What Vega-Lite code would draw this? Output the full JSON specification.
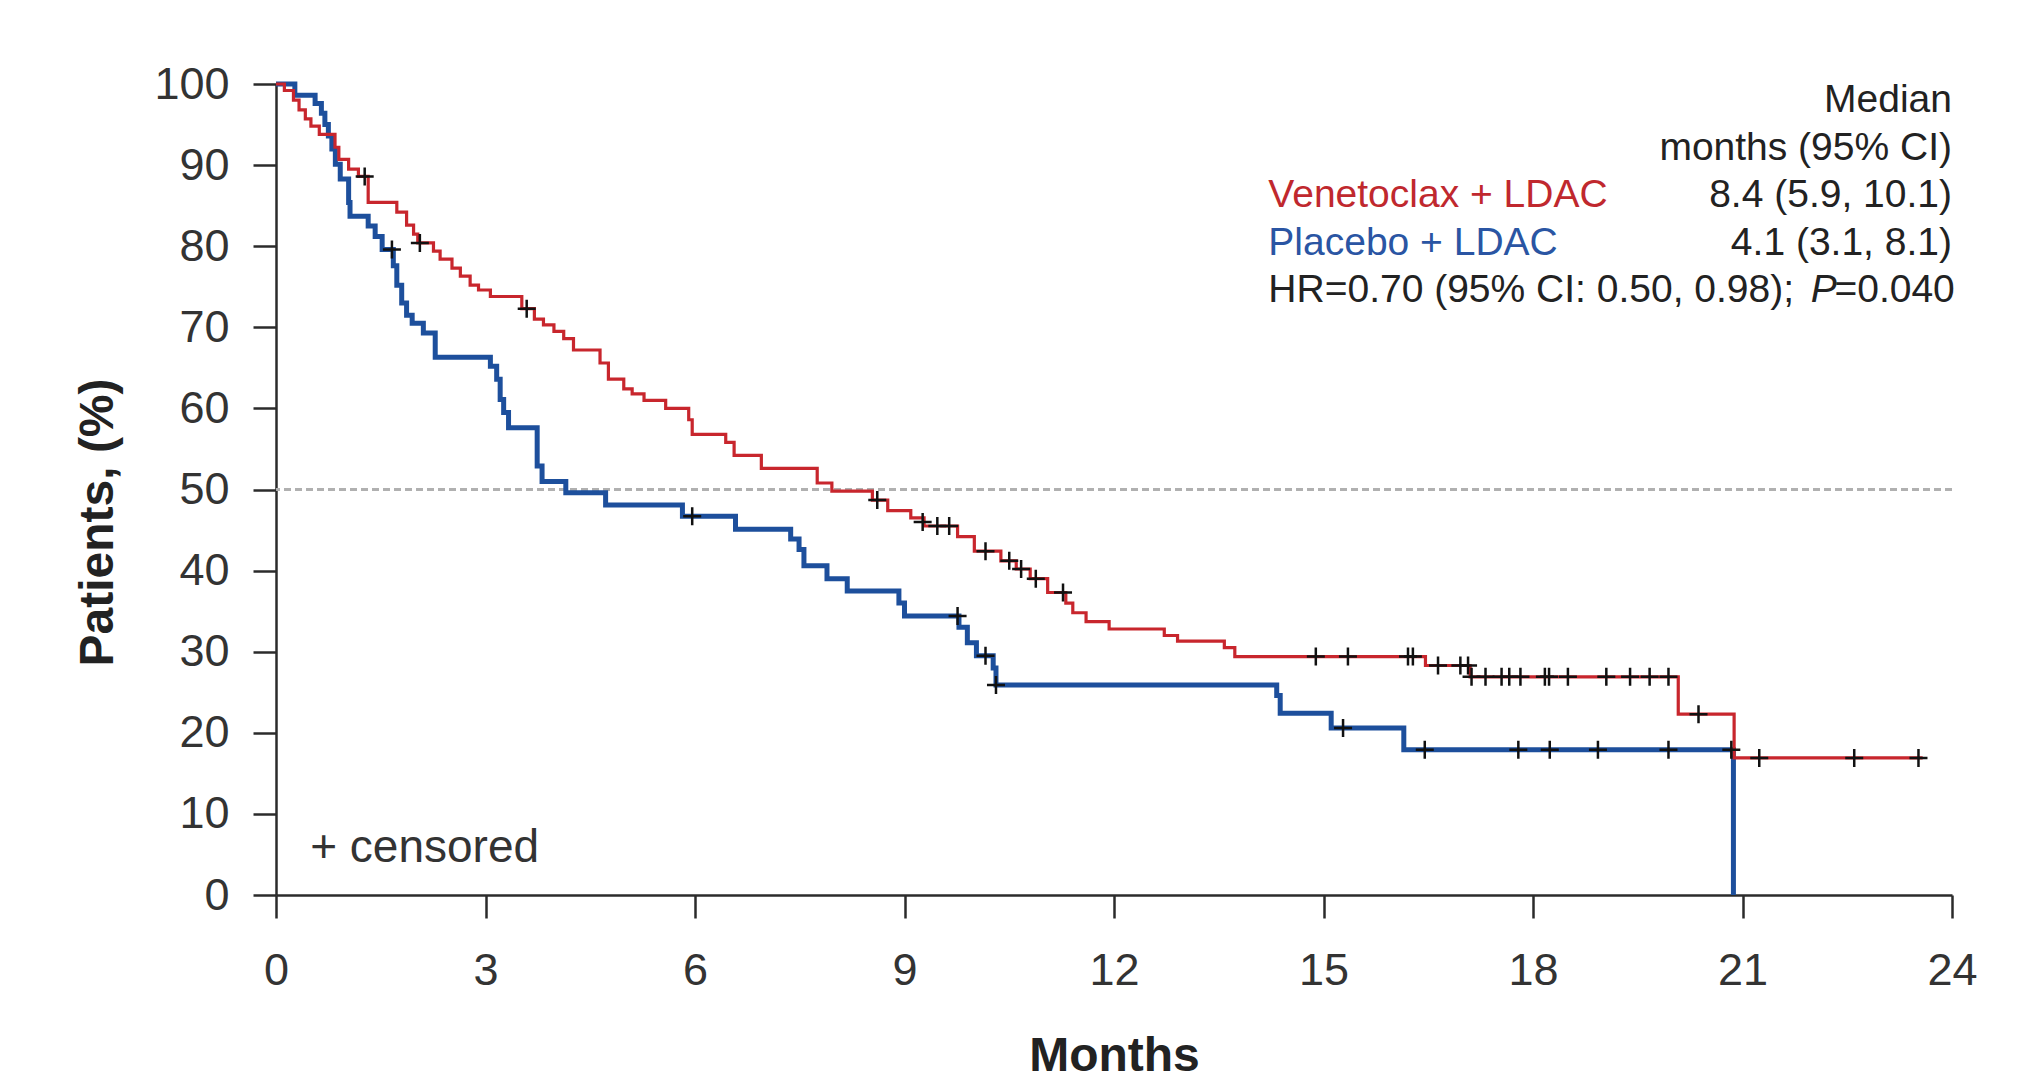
{
  "$schema": "https://vega.github.io/schema/vega-lite/v6.json",
  "width": 1676,
  "height": 811,
  "autosize": {"type": "none"},
  "padding": {"left": 276, "top": 84, "right": 79, "bottom": 196},
  "background": "white",
  "config": {"view": {"stroke": null}, "font": "Liberation Sans"},
  "datasets": {
    "curves": [
      {"arm": "Venetoclax + LDAC", "month": 0, "pct": 100},
      {"arm": "Venetoclax + LDAC", "month": 0.12, "pct": 99.2},
      {"arm": "Venetoclax + LDAC", "month": 0.25, "pct": 98.0},
      {"arm": "Venetoclax + LDAC", "month": 0.33, "pct": 96.8},
      {"arm": "Venetoclax + LDAC", "month": 0.42, "pct": 95.7},
      {"arm": "Venetoclax + LDAC", "month": 0.5, "pct": 94.8},
      {"arm": "Venetoclax + LDAC", "month": 0.62, "pct": 93.8},
      {"arm": "Venetoclax + LDAC", "month": 0.845, "pct": 92.2},
      {"arm": "Venetoclax + LDAC", "month": 0.9, "pct": 90.7},
      {"arm": "Venetoclax + LDAC", "month": 1.04, "pct": 89.5},
      {"arm": "Venetoclax + LDAC", "month": 1.18, "pct": 88.6},
      {"arm": "Venetoclax + LDAC", "month": 1.32, "pct": 85.4},
      {"arm": "Venetoclax + LDAC", "month": 1.73, "pct": 84.2},
      {"arm": "Venetoclax + LDAC", "month": 1.87, "pct": 82.6},
      {"arm": "Venetoclax + LDAC", "month": 1.97, "pct": 81.5},
      {"arm": "Venetoclax + LDAC", "month": 2.03, "pct": 80.4},
      {"arm": "Venetoclax + LDAC", "month": 2.255, "pct": 79.4},
      {"arm": "Venetoclax + LDAC", "month": 2.35, "pct": 78.4},
      {"arm": "Venetoclax + LDAC", "month": 2.52, "pct": 77.3},
      {"arm": "Venetoclax + LDAC", "month": 2.64, "pct": 76.3},
      {"arm": "Venetoclax + LDAC", "month": 2.78, "pct": 75.2},
      {"arm": "Venetoclax + LDAC", "month": 2.9, "pct": 74.6},
      {"arm": "Venetoclax + LDAC", "month": 3.07, "pct": 73.8},
      {"arm": "Venetoclax + LDAC", "month": 3.52, "pct": 72.3},
      {"arm": "Venetoclax + LDAC", "month": 3.7, "pct": 71.0},
      {"arm": "Venetoclax + LDAC", "month": 3.83, "pct": 70.3},
      {"arm": "Venetoclax + LDAC", "month": 3.98, "pct": 69.5},
      {"arm": "Venetoclax + LDAC", "month": 4.12, "pct": 68.6},
      {"arm": "Venetoclax + LDAC", "month": 4.26, "pct": 67.2},
      {"arm": "Venetoclax + LDAC", "month": 4.64, "pct": 65.6},
      {"arm": "Venetoclax + LDAC", "month": 4.76, "pct": 63.6},
      {"arm": "Venetoclax + LDAC", "month": 4.98, "pct": 62.4},
      {"arm": "Venetoclax + LDAC", "month": 5.1, "pct": 61.8},
      {"arm": "Venetoclax + LDAC", "month": 5.27, "pct": 61.0},
      {"arm": "Venetoclax + LDAC", "month": 5.58, "pct": 60.0},
      {"arm": "Venetoclax + LDAC", "month": 5.91, "pct": 58.6},
      {"arm": "Venetoclax + LDAC", "month": 5.96, "pct": 56.8},
      {"arm": "Venetoclax + LDAC", "month": 6.44, "pct": 55.8},
      {"arm": "Venetoclax + LDAC", "month": 6.56, "pct": 54.2},
      {"arm": "Venetoclax + LDAC", "month": 6.95, "pct": 52.6},
      {"arm": "Venetoclax + LDAC", "month": 7.75, "pct": 50.8},
      {"arm": "Venetoclax + LDAC", "month": 7.96, "pct": 49.8},
      {"arm": "Venetoclax + LDAC", "month": 8.54, "pct": 48.7},
      {"arm": "Venetoclax + LDAC", "month": 8.76, "pct": 47.4},
      {"arm": "Venetoclax + LDAC", "month": 9.09, "pct": 46.5},
      {"arm": "Venetoclax + LDAC", "month": 9.28, "pct": 45.5},
      {"arm": "Venetoclax + LDAC", "month": 9.76, "pct": 44.2},
      {"arm": "Venetoclax + LDAC", "month": 10.0, "pct": 42.4},
      {"arm": "Venetoclax + LDAC", "month": 10.38, "pct": 41.2},
      {"arm": "Venetoclax + LDAC", "month": 10.6, "pct": 40.2},
      {"arm": "Venetoclax + LDAC", "month": 10.8, "pct": 39.0},
      {"arm": "Venetoclax + LDAC", "month": 11.05, "pct": 37.3},
      {"arm": "Venetoclax + LDAC", "month": 11.31, "pct": 36.0},
      {"arm": "Venetoclax + LDAC", "month": 11.41, "pct": 34.8},
      {"arm": "Venetoclax + LDAC", "month": 11.6, "pct": 33.7},
      {"arm": "Venetoclax + LDAC", "month": 11.93, "pct": 32.8},
      {"arm": "Venetoclax + LDAC", "month": 12.72, "pct": 32.0},
      {"arm": "Venetoclax + LDAC", "month": 12.91, "pct": 31.3},
      {"arm": "Venetoclax + LDAC", "month": 13.58, "pct": 30.5},
      {"arm": "Venetoclax + LDAC", "month": 13.73, "pct": 29.4},
      {"arm": "Venetoclax + LDAC", "month": 16.46, "pct": 28.3},
      {"arm": "Venetoclax + LDAC", "month": 17.1, "pct": 26.9},
      {"arm": "Venetoclax + LDAC", "month": 20.08, "pct": 22.3},
      {"arm": "Venetoclax + LDAC", "month": 20.88, "pct": 16.9},
      {"arm": "Venetoclax + LDAC", "month": 23.58, "pct": 16.9},
      {"arm": "Placebo + LDAC", "month": 0, "pct": 100},
      {"arm": "Placebo + LDAC", "month": 0.27, "pct": 98.6},
      {"arm": "Placebo + LDAC", "month": 0.56, "pct": 97.6},
      {"arm": "Placebo + LDAC", "month": 0.65, "pct": 96.4},
      {"arm": "Placebo + LDAC", "month": 0.7, "pct": 95.0},
      {"arm": "Placebo + LDAC", "month": 0.75, "pct": 93.6},
      {"arm": "Placebo + LDAC", "month": 0.8, "pct": 92.0},
      {"arm": "Placebo + LDAC", "month": 0.85, "pct": 90.1},
      {"arm": "Placebo + LDAC", "month": 0.92, "pct": 88.3},
      {"arm": "Placebo + LDAC", "month": 1.04, "pct": 85.4},
      {"arm": "Placebo + LDAC", "month": 1.06, "pct": 83.7},
      {"arm": "Placebo + LDAC", "month": 1.32, "pct": 82.5},
      {"arm": "Placebo + LDAC", "month": 1.42, "pct": 81.2},
      {"arm": "Placebo + LDAC", "month": 1.52, "pct": 79.6},
      {"arm": "Placebo + LDAC", "month": 1.68, "pct": 77.6},
      {"arm": "Placebo + LDAC", "month": 1.73, "pct": 75.2},
      {"arm": "Placebo + LDAC", "month": 1.8, "pct": 73.0},
      {"arm": "Placebo + LDAC", "month": 1.87, "pct": 71.5},
      {"arm": "Placebo + LDAC", "month": 1.95, "pct": 70.5},
      {"arm": "Placebo + LDAC", "month": 2.11, "pct": 69.3},
      {"arm": "Placebo + LDAC", "month": 2.28, "pct": 66.3},
      {"arm": "Placebo + LDAC", "month": 3.07, "pct": 65.2},
      {"arm": "Placebo + LDAC", "month": 3.16, "pct": 63.6},
      {"arm": "Placebo + LDAC", "month": 3.21, "pct": 61.1},
      {"arm": "Placebo + LDAC", "month": 3.26, "pct": 59.5},
      {"arm": "Placebo + LDAC", "month": 3.33, "pct": 57.6},
      {"arm": "Placebo + LDAC", "month": 3.74, "pct": 52.9},
      {"arm": "Placebo + LDAC", "month": 3.81, "pct": 51.0},
      {"arm": "Placebo + LDAC", "month": 4.15, "pct": 49.6},
      {"arm": "Placebo + LDAC", "month": 4.72, "pct": 48.1},
      {"arm": "Placebo + LDAC", "month": 5.82, "pct": 46.7},
      {"arm": "Placebo + LDAC", "month": 6.58, "pct": 45.1},
      {"arm": "Placebo + LDAC", "month": 7.37, "pct": 43.9},
      {"arm": "Placebo + LDAC", "month": 7.49, "pct": 42.6},
      {"arm": "Placebo + LDAC", "month": 7.56, "pct": 40.6},
      {"arm": "Placebo + LDAC", "month": 7.89, "pct": 39.0},
      {"arm": "Placebo + LDAC", "month": 8.18, "pct": 37.5},
      {"arm": "Placebo + LDAC", "month": 8.92, "pct": 36.0},
      {"arm": "Placebo + LDAC", "month": 9.0, "pct": 34.4},
      {"arm": "Placebo + LDAC", "month": 9.78, "pct": 33.0},
      {"arm": "Placebo + LDAC", "month": 9.9, "pct": 31.1},
      {"arm": "Placebo + LDAC", "month": 10.03, "pct": 29.5},
      {"arm": "Placebo + LDAC", "month": 10.27, "pct": 28.0},
      {"arm": "Placebo + LDAC", "month": 10.31, "pct": 25.9},
      {"arm": "Placebo + LDAC", "month": 14.33, "pct": 24.6},
      {"arm": "Placebo + LDAC", "month": 14.38, "pct": 22.4},
      {"arm": "Placebo + LDAC", "month": 15.11, "pct": 20.6},
      {"arm": "Placebo + LDAC", "month": 16.15, "pct": 17.9},
      {"arm": "Placebo + LDAC", "month": 20.87, "pct": 0}
    ],
    "censored": [
      {"arm": "Venetoclax + LDAC", "month": 1.27, "pct": 88.6},
      {"arm": "Venetoclax + LDAC", "month": 2.06, "pct": 80.4},
      {"arm": "Venetoclax + LDAC", "month": 3.59, "pct": 72.3},
      {"arm": "Venetoclax + LDAC", "month": 8.61, "pct": 48.7},
      {"arm": "Venetoclax + LDAC", "month": 9.26, "pct": 46.0},
      {"arm": "Venetoclax + LDAC", "month": 9.47, "pct": 45.5},
      {"arm": "Venetoclax + LDAC", "month": 9.64, "pct": 45.5},
      {"arm": "Venetoclax + LDAC", "month": 10.16, "pct": 42.4},
      {"arm": "Venetoclax + LDAC", "month": 10.5, "pct": 41.2},
      {"arm": "Venetoclax + LDAC", "month": 10.67, "pct": 40.2},
      {"arm": "Venetoclax + LDAC", "month": 10.88, "pct": 39.0},
      {"arm": "Venetoclax + LDAC", "month": 11.27, "pct": 37.3},
      {"arm": "Venetoclax + LDAC", "month": 14.89, "pct": 29.4},
      {"arm": "Venetoclax + LDAC", "month": 15.35, "pct": 29.4},
      {"arm": "Venetoclax + LDAC", "month": 16.21, "pct": 29.4},
      {"arm": "Venetoclax + LDAC", "month": 16.28, "pct": 29.4},
      {"arm": "Venetoclax + LDAC", "month": 16.64, "pct": 28.3},
      {"arm": "Venetoclax + LDAC", "month": 16.96, "pct": 28.3},
      {"arm": "Venetoclax + LDAC", "month": 17.07, "pct": 28.3},
      {"arm": "Venetoclax + LDAC", "month": 17.12, "pct": 26.9},
      {"arm": "Venetoclax + LDAC", "month": 17.32, "pct": 26.9},
      {"arm": "Venetoclax + LDAC", "month": 17.55, "pct": 26.9},
      {"arm": "Venetoclax + LDAC", "month": 17.66, "pct": 26.9},
      {"arm": "Venetoclax + LDAC", "month": 17.82, "pct": 26.9},
      {"arm": "Venetoclax + LDAC", "month": 18.17, "pct": 26.9},
      {"arm": "Venetoclax + LDAC", "month": 18.23, "pct": 26.9},
      {"arm": "Venetoclax + LDAC", "month": 18.5, "pct": 26.9},
      {"arm": "Venetoclax + LDAC", "month": 19.05, "pct": 26.9},
      {"arm": "Venetoclax + LDAC", "month": 19.39, "pct": 26.9},
      {"arm": "Venetoclax + LDAC", "month": 19.67, "pct": 26.9},
      {"arm": "Venetoclax + LDAC", "month": 19.94, "pct": 26.9},
      {"arm": "Venetoclax + LDAC", "month": 20.37, "pct": 22.3},
      {"arm": "Venetoclax + LDAC", "month": 21.24, "pct": 16.9},
      {"arm": "Venetoclax + LDAC", "month": 22.6, "pct": 16.9},
      {"arm": "Venetoclax + LDAC", "month": 23.52, "pct": 16.9},
      {"arm": "Placebo + LDAC", "month": 1.66, "pct": 79.6},
      {"arm": "Placebo + LDAC", "month": 5.96, "pct": 46.7},
      {"arm": "Placebo + LDAC", "month": 9.76, "pct": 34.4},
      {"arm": "Placebo + LDAC", "month": 10.16, "pct": 29.5},
      {"arm": "Placebo + LDAC", "month": 10.31, "pct": 25.9},
      {"arm": "Placebo + LDAC", "month": 15.28, "pct": 20.6},
      {"arm": "Placebo + LDAC", "month": 16.45, "pct": 17.9},
      {"arm": "Placebo + LDAC", "month": 17.79, "pct": 17.9},
      {"arm": "Placebo + LDAC", "month": 18.24, "pct": 17.9},
      {"arm": "Placebo + LDAC", "month": 18.93, "pct": 17.9},
      {"arm": "Placebo + LDAC", "month": 19.94, "pct": 17.9},
      {"arm": "Placebo + LDAC", "month": 20.84, "pct": 17.9}
    ],
    "notes": [
      {"label": "Median"},
      {"label": "months (95% CI)"},
      {"label": "Venetoclax + LDAC"},
      {"label": "8.4 (5.9, 10.1)"},
      {"label": "Placebo + LDAC"},
      {"label": "4.1 (3.1, 8.1)"},
      {"label": "HR=0.70 (95% CI: 0.50, 0.98); "},
      {"label": "P"},
      {"label": "=0.040"},
      {"label": "+ censored"}
    ]
  },
  "layer": [
    {
      "data": {"name": "curves"},
      "mark": {"type": "rule", "color": "#b0b0b0", "strokeDash": [7, 4], "strokeWidth": 2},
      "encoding": {"y": {"datum": 50, "type": "quantitative"}}
    },
    {
      "data": {"name": "curves"},
      "transform": [{"filter": "datum.arm === 'Placebo + LDAC'"}],
      "mark": {"type": "line", "interpolate": "step-after", "color": "#1d4f9c", "strokeWidth": 5},
      "encoding": {
        "x": {
          "field": "month", "type": "quantitative",
          "scale": {"domain": [0, 24], "nice": false},
          "axis": {
            "title": "Months", "values": [0, 3, 6, 9, 12, 15, 18, 21, 24], "format": "d", "grid": false,
            "domainColor": "#2b2b2b", "domainWidth": 2.5, "tickColor": "#2b2b2b", "tickWidth": 2.5, "tickSize": 23,
            "labelFont": "Liberation Sans", "labelFontSize": 45, "labelColor": "#333333", "labelPadding": 30,
            "labelFlush": false, "labelOverlap": false,
            "titleFont": "Liberation Sans", "titleFontSize": 48, "titleFontWeight": "bold", "titleColor": "#222222",
            "titleY": 175, "titleBaseline": "alphabetic"
          }
        },
        "y": {
          "field": "pct", "type": "quantitative",
          "scale": {"domain": [0, 100], "nice": false},
          "axis": {
            "title": "Patients, (%)", "values": [0, 10, 20, 30, 40, 50, 60, 70, 80, 90, 100], "format": "d", "grid": false,
            "domainColor": "#2b2b2b", "domainWidth": 2.5, "tickColor": "#2b2b2b", "tickWidth": 2.5, "tickSize": 23,
            "labelFont": "Liberation Sans", "labelFontSize": 45, "labelColor": "#333333", "labelPadding": 24,
            "labelFlush": false, "labelOverlap": false,
            "titleFont": "Liberation Sans", "titleFontSize": 48, "titleFontWeight": "bold", "titleColor": "#222222",
            "titleAngle": 270, "titleX": -164, "titleY": 438, "titleAlign": "center", "titleBaseline": "alphabetic"
          }
        }
      }
    },
    {
      "data": {"name": "curves"},
      "transform": [{"filter": "datum.arm === 'Venetoclax + LDAC'"}],
      "mark": {"type": "line", "interpolate": "step-after", "color": "#c8262d", "strokeWidth": 3.2},
      "encoding": {
        "x": {"field": "month", "type": "quantitative"},
        "y": {"field": "pct", "type": "quantitative"}
      }
    },
    {
      "data": {"name": "censored"},
      "mark": {"type": "point", "shape": "M-1,0H1M0,-1V1", "size": 324, "filled": false, "color": "#111111", "strokeWidth": 2.5, "opacity": 1},
      "encoding": {
        "x": {"field": "month", "type": "quantitative"},
        "y": {"field": "pct", "type": "quantitative"}
      }
    },
    {
      "data": {"name": "notes"},
      "transform": [{"filter": "datum.label === 'Median'"}],
      "mark": {"type": "text", "align": "right", "baseline": "alphabetic", "font": "Liberation Sans", "fontSize": 39, "color": "#222222"},
      "encoding": {
        "x": {"datum": 24, "type": "quantitative"},
        "y": {"datum": 96.54, "type": "quantitative"},
        "text": {"field": "label"}
      }
    },
    {
      "data": {"name": "notes"},
      "transform": [{"filter": "datum.label === 'months (95% CI)'"}],
      "mark": {"type": "text", "align": "right", "baseline": "alphabetic", "font": "Liberation Sans", "fontSize": 39, "color": "#222222"},
      "encoding": {
        "x": {"datum": 24, "type": "quantitative"},
        "y": {"datum": 90.62, "type": "quantitative"},
        "text": {"field": "label"}
      }
    },
    {
      "data": {"name": "notes"},
      "transform": [{"filter": "datum.label === 'Venetoclax + LDAC'"}],
      "mark": {"type": "text", "align": "left", "baseline": "alphabetic", "font": "Liberation Sans", "fontSize": 39, "color": "#c0282e"},
      "encoding": {
        "x": {"datum": 14.21, "type": "quantitative"},
        "y": {"datum": 84.81, "type": "quantitative"},
        "text": {"field": "label"}
      }
    },
    {
      "data": {"name": "notes"},
      "transform": [{"filter": "datum.label === '8.4 (5.9, 10.1)'"}],
      "mark": {"type": "text", "align": "right", "baseline": "alphabetic", "font": "Liberation Sans", "fontSize": 39, "color": "#222222"},
      "encoding": {
        "x": {"datum": 24, "type": "quantitative"},
        "y": {"datum": 84.81, "type": "quantitative"},
        "text": {"field": "label"}
      }
    },
    {
      "data": {"name": "notes"},
      "transform": [{"filter": "datum.label === 'Placebo + LDAC'"}],
      "mark": {"type": "text", "align": "left", "baseline": "alphabetic", "font": "Liberation Sans", "fontSize": 39, "color": "#2a55a3"},
      "encoding": {
        "x": {"datum": 14.21, "type": "quantitative"},
        "y": {"datum": 78.89, "type": "quantitative"},
        "text": {"field": "label"}
      }
    },
    {
      "data": {"name": "notes"},
      "transform": [{"filter": "datum.label === '4.1 (3.1, 8.1)'"}],
      "mark": {"type": "text", "align": "right", "baseline": "alphabetic", "font": "Liberation Sans", "fontSize": 39, "color": "#222222"},
      "encoding": {
        "x": {"datum": 24, "type": "quantitative"},
        "y": {"datum": 78.89, "type": "quantitative"},
        "text": {"field": "label"}
      }
    },
    {
      "data": {"name": "notes"},
      "transform": [{"filter": "datum.label === 'HR=0.70 (95% CI: 0.50, 0.98); '"}],
      "mark": {"type": "text", "align": "left", "baseline": "alphabetic", "font": "Liberation Sans", "fontSize": 39, "color": "#222222"},
      "encoding": {
        "x": {"datum": 14.21, "type": "quantitative"},
        "y": {"datum": 73.09, "type": "quantitative"},
        "text": {"field": "label"}
      }
    },
    {
      "data": {"name": "notes"},
      "transform": [{"filter": "datum.label === 'P'"}],
      "mark": {"type": "text", "align": "right", "baseline": "alphabetic", "font": "Liberation Sans", "fontSize": 39, "fontStyle": "italic", "color": "#222222"},
      "encoding": {
        "x": {"datum": 22.35, "type": "quantitative"},
        "y": {"datum": 73.09, "type": "quantitative"},
        "text": {"field": "label"}
      }
    },
    {
      "data": {"name": "notes"},
      "transform": [{"filter": "datum.label === '=0.040'"}],
      "mark": {"type": "text", "align": "right", "baseline": "alphabetic", "font": "Liberation Sans", "fontSize": 39, "color": "#222222"},
      "encoding": {
        "x": {"datum": 24.04, "type": "quantitative"},
        "y": {"datum": 73.09, "type": "quantitative"},
        "text": {"field": "label"}
      }
    },
    {
      "data": {"name": "notes"},
      "transform": [{"filter": "datum.label === '+ censored'"}],
      "mark": {"type": "text", "align": "left", "baseline": "alphabetic", "font": "Liberation Sans", "fontSize": 46, "color": "#333333"},
      "encoding": {
        "x": {"datum": 0.49, "type": "quantitative"},
        "y": {"datum": 4.07, "type": "quantitative"},
        "text": {"field": "label"}
      }
    }
  ]
}
